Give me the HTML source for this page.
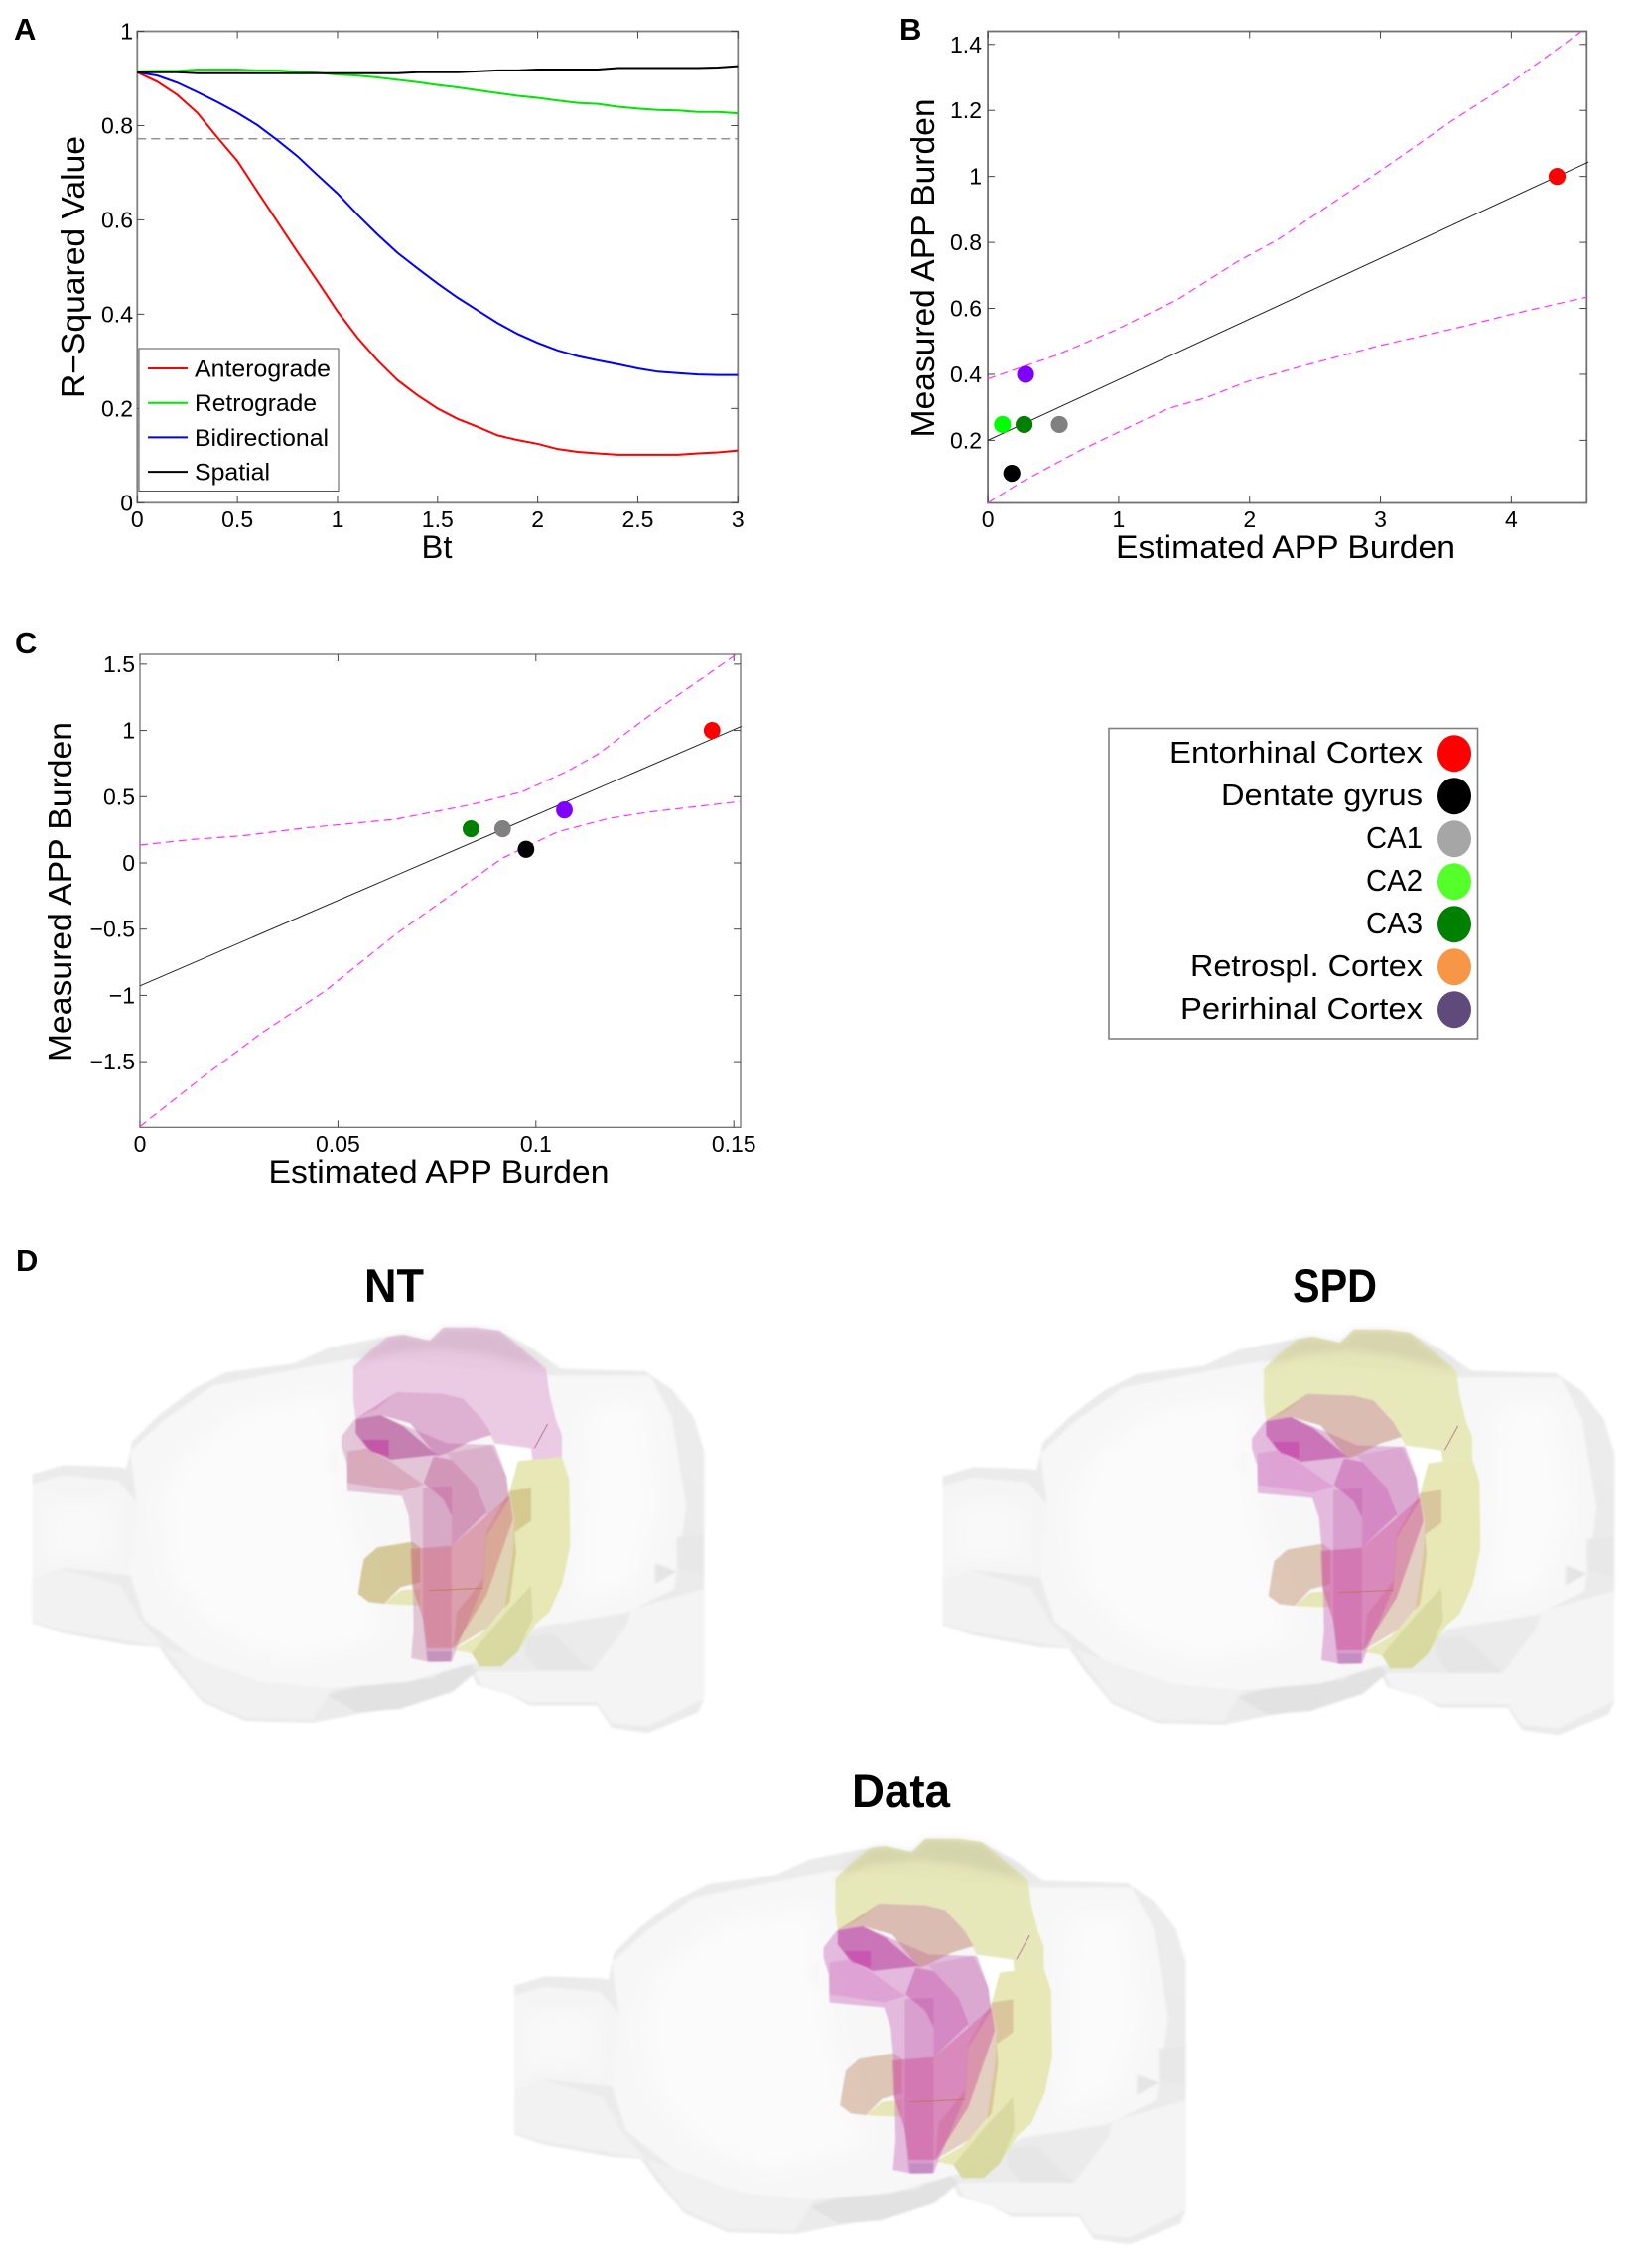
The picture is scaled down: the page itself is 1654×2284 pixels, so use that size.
<!DOCTYPE html>
<html lang="en">
<head>
<meta charset="utf-8">
<title>APP burden network diffusion figure</title>
<style>
html,body{margin:0;padding:0;background:#fff;}
svg{display:block;font-family:"Liberation Sans",sans-serif;}
</style>
</head>
<body>
<svg id="fig" width="1654" height="2284" viewBox="0 0 1654 2284" xmlns="http://www.w3.org/2000/svg">
<defs>
<filter id="soft" x="-10%" y="-10%" width="120%" height="120%"><feGaussianBlur stdDeviation="28"/></filter>
<filter id="softer" x="-5%" y="-5%" width="110%" height="110%"><feGaussianBlur stdDeviation="3"/></filter>
<filter id="part" x="-5%" y="-5%" width="110%" height="110%"><feGaussianBlur stdDeviation="2.2"/></filter>
<filter id="edge" x="-10%" y="-10%" width="120%" height="120%"><feGaussianBlur stdDeviation="12"/></filter>
<g id="brain">
  <g transform="translate(0,1240) scale(.4851,.3461)">
    <g filter="url(#softer)">
    <polygon fill="#ebebeb" points="67,707 130,680 245,685 262,690 275,610 330,535 400,460 470,410 610,385 680,340 750,320 830,300 890,320 920,282 1040,292 1110,345 1165,400 1340,407 1395,460 1440,540 1462,640 1462,1360 1450,1400 1345,1460 1270,1445 1240,1380 1100,1380 1060,1350 990,1320 980,1290 940,1330 850,1380 740,1405 650,1430 510,1425 420,1370 360,1270 330,1210 270,1205 130,1170 67,1140"/>
    <polygon fill="#f5f5f5" points="67,735 130,710 245,725 290,800 270,1000 130,980 67,1010"/>
    <polygon fill="#f2f2f2" points="67,1010 125,980 250,1030 290,1130 340,1210 130,1160 67,1135"/>
    <polygon fill="#f4f4f4" points="1310,1100 1462,1040 1462,1360 1345,1440 1270,1430 1240,1370 1100,1370 1000,1320 985,1280 1130,1280 1230,1280 1300,1150"/>
    <polygon fill="#f1f1f1" points="340,1210 400,1240 540,1310 690,1330 650,1420 510,1415 420,1360"/>
    <polygon fill="#e2e2e2" points="680,1350 750,1320 900,1300 960,1240 990,1280 940,1340 830,1390 740,1400"/>
    <polygon fill="#e6e6e6" points="1090,1180 1150,1170 1230,1280 1120,1280 1090,1230"/>
    <polygon fill="#f7f7f7" points="285,800 270,640 340,550 440,450 620,400 740,370 1140,420 1350,420 1395,540 1425,800 1400,1040 1300,1110 1120,1150 1000,1250 850,1310 690,1330 540,1310 400,1240 300,1130 270,1000"/>
    <polygon fill="#ececec" points="1375,480 1415,600 1420,700 1462,740 1462,640 1440,540 1395,460"/>
    <polygon fill="#ebebeb" points="658,670 698,635 698,708"/>
    <polygon fill="#e4e4e4" points="1360,965 1405,990 1360,1025"/>
    <polygon fill="#e8e8e8" points="1405,890 1462,880 1462,1000 1405,980"/>
    </g>
    <polygon fill="#fbfbfb" filter="url(#soft)" points="330,800 370,660 500,520 700,470 720,800 760,1000 800,1180 600,1250 440,1160 350,1000"/>
    <polygon fill="#fbfbfb" filter="url(#soft)" points="1220,500 1340,490 1370,800 1320,1020 1200,1080 1210,800"/>
    <polygon fill="#f9f9f9" filter="url(#soft)" points="90,790 230,780 240,950 90,950"/>
  </g>
  <g transform="translate(340,1330) scale(.33333)">
    <polygon fill="#ffffff" points="475,372 585,388 585,418 545,425 520,510 500,430"/>
    <g filter="url(#part)">
    <polygon style="fill:var(--top)" points="48,140 100,90 150,50 200,42 280,60 320,20 420,20 490,30 540,70 630,145 640,220 660,300 678,345 678,412 590,420 585,385 475,370 440,300 380,235 320,220 180,215 120,265 55,295 48,240"/>
    <polygon fill="rgba(110,90,100,.13)" filter="url(#edge)" points="48,140 100,90 150,50 200,42 280,60 320,20 420,20 490,30 540,70 630,145 540,125 430,100 300,85 150,100"/>
    <polygon style="fill:var(--yel)" points="545,425 585,420 678,412 700,480 703,680 680,790 640,880 600,915 545,1000 495,1045 430,1045 405,1005 350,995 430,950 505,870 530,700 535,600 520,520"/>
    <polygon fill="rgba(185,185,115,.3)" points="585,800 590,900 545,1000 495,1045 430,1045 405,1005 510,880"/>
    <polygon style="fill:var(--mid)" points="520,515 585,505 585,605 535,640 540,700 520,850 450,930 350,990 360,880 440,780 450,640"/>
    <polygon style="fill:var(--stub)" points="120,685 225,668 250,685 250,790 190,805 140,855 95,850 62,825 72,760 80,720"/>
    <polygon fill="rgba(225,225,165,.8)" points="140,855 190,815 250,810 250,860 200,858"/>
    <polygon style="fill:var(--hip)" points="12,350 50,300 130,285 330,370 475,375 510,470 518,540 450,650 440,800 360,990 345,1030 280,1032 222,1020 230,930 225,700 215,590 195,530 30,515 28,430 12,380"/>
    <polygon style="fill:var(--col)" points="258,505 345,500 345,1030 270,1030 258,900"/>
    <polygon style="fill:var(--arc)" points="180,215 320,220 380,235 440,300 465,345 400,365 330,400 300,410 220,310 130,285 55,295 105,265"/>
    <polygon fill="rgba(200,130,175,.3)" points="330,400 465,375 510,470 518,540 450,590 420,500 345,420"/>
    <polygon style="fill:var(--band)" points="290,410 345,420 420,500 450,580 345,680 345,590 320,540 260,490"/>
    <polygon style="fill:var(--low)" points="220,690 345,680 450,590 520,530 530,600 450,830 350,990 270,990 258,900 225,800"/>
    <polygon style="fill:var(--lip)" points="30,395 90,385 160,425 260,495 195,515 30,490"/>
    <polygon style="fill:var(--head)" points="55,295 130,285 200,320 300,405 160,420 90,385 55,340"/>
    <polygon style="fill:var(--head2)" points="75,360 155,360 155,410 100,395"/>
    <polygon fill="rgba(150,100,170,.3)" points="270,1000 345,1000 340,1030 275,1030"/>
    </g>
    <polyline fill="none" stroke="rgba(180,120,60,.5)" stroke-width="4" points="275,815 440,808"/>
    <polyline fill="none" stroke="rgba(170,90,140,.55)" stroke-width="4" points="595,385 635,312"/>
  </g>
</g>
</defs>
<rect width="1654" height="2284" fill="#fff"/>

<g font-weight="700" font-size="31" fill="#000">
  <text x="14" y="40">A</text>
  <text x="906" y="40">B</text>
  <text x="15" y="658">C</text>
  <text x="16" y="1280">D</text>
</g>

<g font-weight="700" font-size="47" fill="#000" text-anchor="start">
  <text x="367" y="1311" textLength="60" lengthAdjust="spacingAndGlyphs">NT</text>
  <text x="1302" y="1311" textLength="85" lengthAdjust="spacingAndGlyphs">SPD</text>
  <text x="858" y="1820" textLength="99" lengthAdjust="spacingAndGlyphs">Data</text>
</g>

<use href="#brain"
 style="--top:rgba(232,190,222,.78);--yel:rgba(228,229,170,.85);--mid:rgba(190,160,90,.42);--stub:rgba(190,170,90,.6);--hip:rgba(195,125,170,.4);--col:rgba(185,90,150,.28);--arc:rgba(190,90,165,.45);--band:rgba(185,70,135,.38);--low:rgba(205,85,95,.35);--lip:rgba(205,130,150,.42);--head:rgba(165,40,130,.45);--head2:rgba(200,40,160,.45)"/>
<use href="#brain" transform="translate(917,2)"
 style="--top:rgba(228,229,170,.78);--yel:rgba(228,229,170,.85);--mid:rgba(200,150,120,.42);--stub:rgba(205,165,140,.6);--hip:rgba(205,120,195,.48);--col:rgba(190,90,170,.28);--arc:rgba(190,130,110,.5);--band:rgba(190,70,160,.42);--low:rgba(205,70,140,.42);--lip:rgba(215,130,200,.4);--head:rgba(180,50,150,.5);--head2:rgba(200,50,165,.45)"/>
<use href="#brain" transform="translate(485.5,515)"
 style="--top:rgba(228,229,170,.8);--yel:rgba(228,229,170,.85);--mid:rgba(200,150,120,.42);--stub:rgba(205,165,140,.6);--hip:rgba(205,120,195,.48);--col:rgba(190,90,170,.28);--arc:rgba(190,130,110,.5);--band:rgba(190,70,160,.42);--low:rgba(205,70,140,.42);--lip:rgba(215,130,200,.4);--head:rgba(180,50,150,.5);--head2:rgba(200,50,165,.45)"/>

<g id="plots"></g>
</svg>

<script>
// Panel A data
const btValues = [0,0.1,0.2,0.3,0.4,0.5,0.6,0.7,0.8,0.9,1,1.1,1.2,1.3,1.4,1.5,1.6,1.7,1.8,1.9,2,2.1,2.2,2.3,2.4,2.5,2.6,2.7,2.8,2.9,3];
const anterograde = [.913,.893,.865,.827,.775,.725,.66,.596,.532,.47,.406,.35,.302,.26,.228,.2,.178,.161,.143,.133,.125,.114,.108,.105,.102,.102,.102,.102,.105,.107,.111];
const retrograde = [.915,.916,.916,.919,.919,.919,.917,.917,.914,.912,.908,.906,.902,.897,.892,.886,.881,.875,.869,.863,.859,.853,.848,.846,.84,.836,.833,.832,.829,.829,.826];
const bidirectional = [.913,.906,.891,.871,.85,.827,.801,.769,.735,.695,.656,.611,.569,.53,.497,.465,.435,.408,.381,.358,.339,.323,.311,.302,.294,.285,.278,.275,.272,.271,.271];
const spatial = [.913,.913,.913,.911,.911,.911,.911,.911,.911,.911,.911,.911,.911,.911,.913,.913,.913,.915,.917,.917,.919,.919,.919,.919,.922,.922,.922,.922,.922,.923,.926];
const thresholdValue = [.772];
const aXTicks = [0,0.5,1,1.5,2,2.5,3];
const aYTicks = [0,0.2,0.4,0.6,0.8,1];
const aLegendLabels = ["Anterograde","Retrograde","Bidirectional","Spatial"];
const aLegendWidths = [137,123,135,76];

// Panel B data
const bPointX = [4.35,0.183,0.546,0.112,0.277,0.288];
const bPointY = [1,0.1,0.248,0.248,0.248,0.4];
const bFitX = [0,4.59];
const bFitY = [0.2,1.044];
const bUpperX = [0,.516,.964,1.45,1.9,2.217,2.61,3.02,3.54,3.99,4.53];
const bUpperY = [.386,.457,.532,.627,.74,.809,.913,1.023,1.167,1.282,1.438];
const bLowerX = [0,.254,.703,1.376,1.675,1.974,2.385,2.983,3.62,3.99,4.576];
const bLowerY = [.01,.073,.169,.296,.33,.377,.423,.486,.544,.581,.634];
const bXTicks = [0,1,2,3,4];
const bYTicks = [0.2,0.4,0.6,0.8,1,1.2,1.4];

// Panel C data
const cPointX = [.1445,.0975,.0916,.0836,.1072];
const cPointY = [1,.103,.258,.258,.4];
const cFitX = [0,.1519];
const cFitY = [-.928,1.031];
const cUpperX = [0,.0134,.0262,.0416,.0646,.0838,.0965,.108,.1157,.1311,.1503];
const cUpperY = [.135,.178,.206,.264,.33,.441,.536,.693,.822,1.166,1.567];
const cLowerX = [0,.016,.0307,.0467,.0646,.0774,.0914,.1055,.1183,.1285,.1517];
const cLowerY = [-1.99,-1.613,-1.284,-.968,-.539,-.266,.034,.235,.335,.384,.464];
const cXTicks = [0,0.05,0.1,0.15];
const cYTicks = [-1.5,-1,-0.5,0,0.5,1,1.5];

// Region names
const regionNames = ["Entorhinal Cortex","Dentate gyrus","CA1","CA2","CA3","Retrospl. Cortex","Perirhinal Cortex"];
const regionTextWidths = [255,203,57,57,57,234,244];
const regionColors = ["#ff0000","#000000","#a6a6a6","#55ff2a","#008000","#f79646","#604a7b"];
const bPointColors = ["#ff0000","#000000","#808080","#00ff00","#008000","#7f00ff"];
const cPointColors = ["#ff0000","#000000","#808080","#008000","#7f00ff"];
const aSeriesColors = ["#ff0000","#00e600","#0000ff","#000000"];

const NS = "http://www.w3.org/2000/svg";
const root = document.getElementById("plots");
function mk(tag, attrs, parent){
  const el = document.createElementNS(NS, tag);
  for (const k in attrs) el.setAttribute(k, attrs[k]);
  (parent || root).appendChild(el);
  return el;
}
function linear(d0, d1, r0, r1){
  return v => r0 + (v - d0) * (r1 - r0) / (d1 - d0);
}
function fmt(v){ return String(v).replace("-", "\u2212"); }

function drawAxes(p){
  const g = mk("g", {});
  
  
  const box = mk("rect", {x:p.l, y:p.t, width:p.r-p.l, height:p.b-p.t, fill:"none", stroke:p.stroke, "stroke-width":p.sw}, g);
  
  
  p.xTicks.forEach(v => {
    const x = p.sx(v);
    const t1 = mk("line", {x1:x, x2:x, y1:p.b, y2:p.b-7, stroke:"#444", "stroke-width":1}, g);
    
    
    const t2 = mk("line", {x1:x, x2:x, y1:p.t, y2:p.t+7, stroke:"#444", "stroke-width":1}, g);
    
    
    const lab = mk("text", {x:x, y:p.xTickY, "text-anchor":"middle", "font-size":23, fill:"#000"}, g);
    lab.textContent = fmt(v);
    
    
  });
  p.yTicks.forEach(v => {
    const y = p.sy(v);
    const t1 = mk("line", {x1:p.l, x2:p.l+7, y1:y, y2:y, stroke:"#444", "stroke-width":1}, g);
    
    
    const t2 = mk("line", {x1:p.r, x2:p.r-7, y1:y, y2:y, stroke:"#444", "stroke-width":1}, g);
    
    
    const lab = mk("text", {x:p.yTickX, y:y+8, "text-anchor":"end", "font-size":23, fill:"#000"}, g);
    lab.textContent = fmt(v);
    
    
  });
  const xl = mk("text", {x:p.xLabelX, y:p.xLabelY, "text-anchor":"middle", "font-size":32, fill:"#000", textLength:p.xLabelW, lengthAdjust:"spacingAndGlyphs"}, g);
  xl.textContent = p.xLabel;
  
  
  const yl = mk("text", {transform:"translate("+p.yLabelX+","+p.yLabelC+") rotate(-90)", "text-anchor":"middle", "font-size":33, fill:"#000", textLength:p.yLabelW, lengthAdjust:"spacingAndGlyphs"}, g);
  yl.textContent = p.yLabel;
  
  
}
function path(p, xs, ys, attrs){
  const pts = xs.map((x,i) => p.sx(x).toFixed(2) + "," + p.sy(ys[i]).toFixed(2)).join(" ");
  return mk("polyline", Object.assign({points:pts, fill:"none"}, attrs));
}

/* ---------- Panel A ---------- */
const pA = {id:"panel-a", l:138.3, r:743.3, t:31.5, b:506.3, stroke:"#808080", sw:1.8,
  xTicks:aXTicks, yTicks:aYTicks, xTickY:531, yTickX:134,
  xLabel:"Bt", xLabelX:440, xLabelY:562, xLabelW:31,
  yLabel:"R\u2212Squared Value", yLabelX:85, yLabelC:269, yLabelW:264};
pA.sx = linear(0,3,pA.l,pA.r);
pA.sy = linear(0,1,pA.b,pA.t);
drawAxes(pA);
const thr = mk("line", {x1:pA.l, x2:pA.r, y1:pA.sy(thresholdValue[0]), y2:pA.sy(thresholdValue[0]), stroke:"#808080", "stroke-width":1.2, "stroke-dasharray":"9 5"});


const redLine = path(pA, btValues, anterograde, {stroke:aSeriesColors[0], "stroke-width":2});


const greenLine = path(pA, btValues, retrograde, {stroke:aSeriesColors[1], "stroke-width":2});


const blueLine = path(pA, btValues, bidirectional, {stroke:aSeriesColors[2], "stroke-width":2});


const blackLine = path(pA, btValues, spatial, {stroke:aSeriesColors[3], "stroke-width":2});



const lgA = mk("g", {});


const lgABox = mk("rect", {x:140, y:351, width:201, height:143.5, fill:"#fff", stroke:"#555", "stroke-width":1}, lgA);


aLegendLabels.forEach((name,i) => {
  const y = 371 + i * 34.7;
  const sw = mk("line", {x1:149, x2:189, y1:y, y2:y, stroke:aSeriesColors[i], "stroke-width":2}, lgA);
  
  
  const t = mk("text", {x:196, y:y+8.5, "font-size":24, fill:"#000", textLength:aLegendWidths[i], lengthAdjust:"spacingAndGlyphs"}, lgA);
  t.textContent = name;
  
  
});

/* ---------- Panel B ---------- */
const pB = {id:"panel-b", l:995.1, r:1598.3, t:31.5, b:506.5, stroke:"#707070", sw:1.8,
  xTicks:bXTicks, yTicks:bYTicks, xTickY:531, yTickX:989,
  xLabel:"Estimated APP Burden", xLabelX:1295, xLabelY:562, xLabelW:342,
  yLabel:"Measured APP Burden", yLabelX:941, yLabelC:270, yLabelW:341};
pB.sx = linear(0,4.576,pB.l,pB.r);
pB.sy = linear(0.01,1.44,pB.b,pB.t);
drawAxes(pB);
const bUp = path(pB, bUpperX, bUpperY, {stroke:"#ff33ff", "stroke-width":1.2, "stroke-dasharray":"8 5"});


const bLo = path(pB, bLowerX, bLowerY, {stroke:"#ff33ff", "stroke-width":1.2, "stroke-dasharray":"8 5"});


const bFit = path(pB, bFitX, bFitY, {stroke:"#222", "stroke-width":1});


bPointX.forEach((x,i) => {
  const c = mk("ellipse", {cx:pB.sx(x), cy:pB.sy(bPointY[i]), rx:8.6, ry:8.6, fill:bPointColors[i]});
  
  
});

/* ---------- Panel C ---------- */
const pC = {id:"panel-c", l:141, r:746, t:659, b:1135.3, stroke:"#666", sw:1.2,
  xTicks:cXTicks, yTicks:cYTicks, xTickY:1160, yTickX:136,
  xLabel:"Estimated APP Burden", xLabelX:442, xLabelY:1191, xLabelW:343,
  yLabel:"Measured APP Burden", yLabelX:72, yLabelC:898, yLabelW:342};
pC.sx = linear(0,.1517,pC.l,pC.r);
pC.sy = linear(-1.996,1.574,pC.b,pC.t);
drawAxes(pC);
const cUp = path(pC, cUpperX, cUpperY, {stroke:"#ff33ff", "stroke-width":1.2, "stroke-dasharray":"8 5"});


const cLo = path(pC, cLowerX, cLowerY, {stroke:"#ff33ff", "stroke-width":1.2, "stroke-dasharray":"8 5"});


const cFit = path(pC, cFitX, cFitY, {stroke:"#222", "stroke-width":1});


cPointX.forEach((x,i) => {
  const c = mk("ellipse", {cx:pC.sx(x), cy:pC.sy(cPointY[i]), rx:8.4, ry:8.6, fill:cPointColors[i]});
  
  
});

/* ---------- Region legend ---------- */
const lgR = mk("g", {});


const lgRBox = mk("rect", {x:1117, y:733.5, width:371.5, height:312.5, fill:"#fff", stroke:"#808080", "stroke-width":1.6}, lgR);


regionNames.forEach((name,i) => {
  const cy = 758.7 + i * 43;
  const t = mk("text", {x:1433, y:cy+9.5, "text-anchor":"end", "font-size":31, fill:"#000", textLength:regionTextWidths[i], lengthAdjust:"spacingAndGlyphs"}, lgR);
  t.textContent = name;
  
  
  const c = mk("ellipse", {cx:1465, cy:cy, rx:17, ry:18.5, fill:regionColors[i]}, lgR);
  
  
});
</script>
</body>
</html>
